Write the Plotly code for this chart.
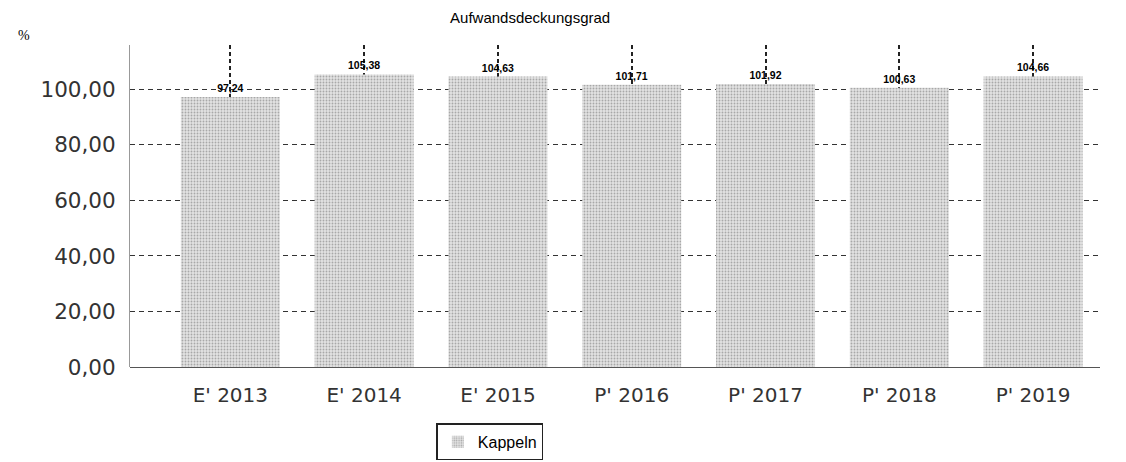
import plotly.graph_objects as go

categories = ["E' 2013", "E' 2014", "E' 2015", "P' 2016", "P' 2017", "P' 2018", "P' 2019"]
values = [97.24, 105.38, 104.63, 101.71, 101.92, 100.63, 104.66]
y_ticks = [0, 20, 40, 60, 80, 100]
series_name = "Kappeln"

xpos = list(range(len(categories)))

fig = go.Figure()
fig.add_trace(go.Bar(
    x=xpos,
    y=values,
    name=series_name,
    width=0.74,
    marker=dict(
        color="#d8d8d8",
        line=dict(width=0),
        pattern=dict(shape=".", fgcolor="#6e6e6e", bgcolor="#e2e2e2", size=3, solidity=0.3),
    ),
    texttemplate="<b>%{y:.2f}</b>",
    textposition="outside",
    textfont=dict(family="Liberation Sans", size=10.5, color="black"),
    cliponaxis=False,
    showlegend=True,
))

# page body has an 8px margin, so the figure is 8px smaller than the window
fig.update_layout(
    width=1118,
    height=454,
    separators=",.",
    plot_bgcolor="white",
    paper_bgcolor="white",
    margin=dict(l=122, r=26, t=37, b=95, autoexpand=False),
    title=dict(text="Aufwandsdeckungsgrad", x=0.467, xanchor="center", xref="container",
               y=0.99, yanchor="top", yref="container", pad=dict(t=0, b=0),
               font=dict(family="Liberation Sans", size=15, color="black")),
    font=dict(family="DejaVu Sans", color="#222222"),
    legend=dict(orientation="h", x=0.371, xanchor="center", y=-0.175, yanchor="top",
                bordercolor="#222222", borderwidth=1.5, itemwidth=30, tracegroupgap=0,
                font=dict(family="Liberation Sans", size=16, color="black")),
    annotations=[dict(text="%", xref="paper", yref="paper", x=-0.118, y=1.0, xanchor="left", yanchor="bottom",
                      showarrow=False, font=dict(family="Liberation Serif", size=14, color="black"))],
)

fig.update_xaxes(
    range=[-0.75, 6.5],
    tickvals=xpos,
    ticktext=categories,
    tickfont=dict(family="DejaVu Sans", size=20, color="#333333"),
    ticklabelstandoff=14,
    showgrid=True, gridcolor="#222222", griddash="4px,3px", gridwidth=1.5,
    showline=False, zeroline=False, ticks="",
)
fig.update_yaxes(
    range=[0, 116],
    tickvals=y_ticks,
    tickformat=".2f",
    tickfont=dict(family="DejaVu Sans", size=21.5, color="#333333"),
    ticklabelstandoff=9,
    showgrid=True, gridcolor="#333333", griddash="5px,4px", gridwidth=1,
    zeroline=True, zerolinecolor="#555555", zerolinewidth=1,
    showline=True, linecolor="#999999", linewidth=1,
    ticks="", ticklen=0,
)

fig.write_html("out.html")
